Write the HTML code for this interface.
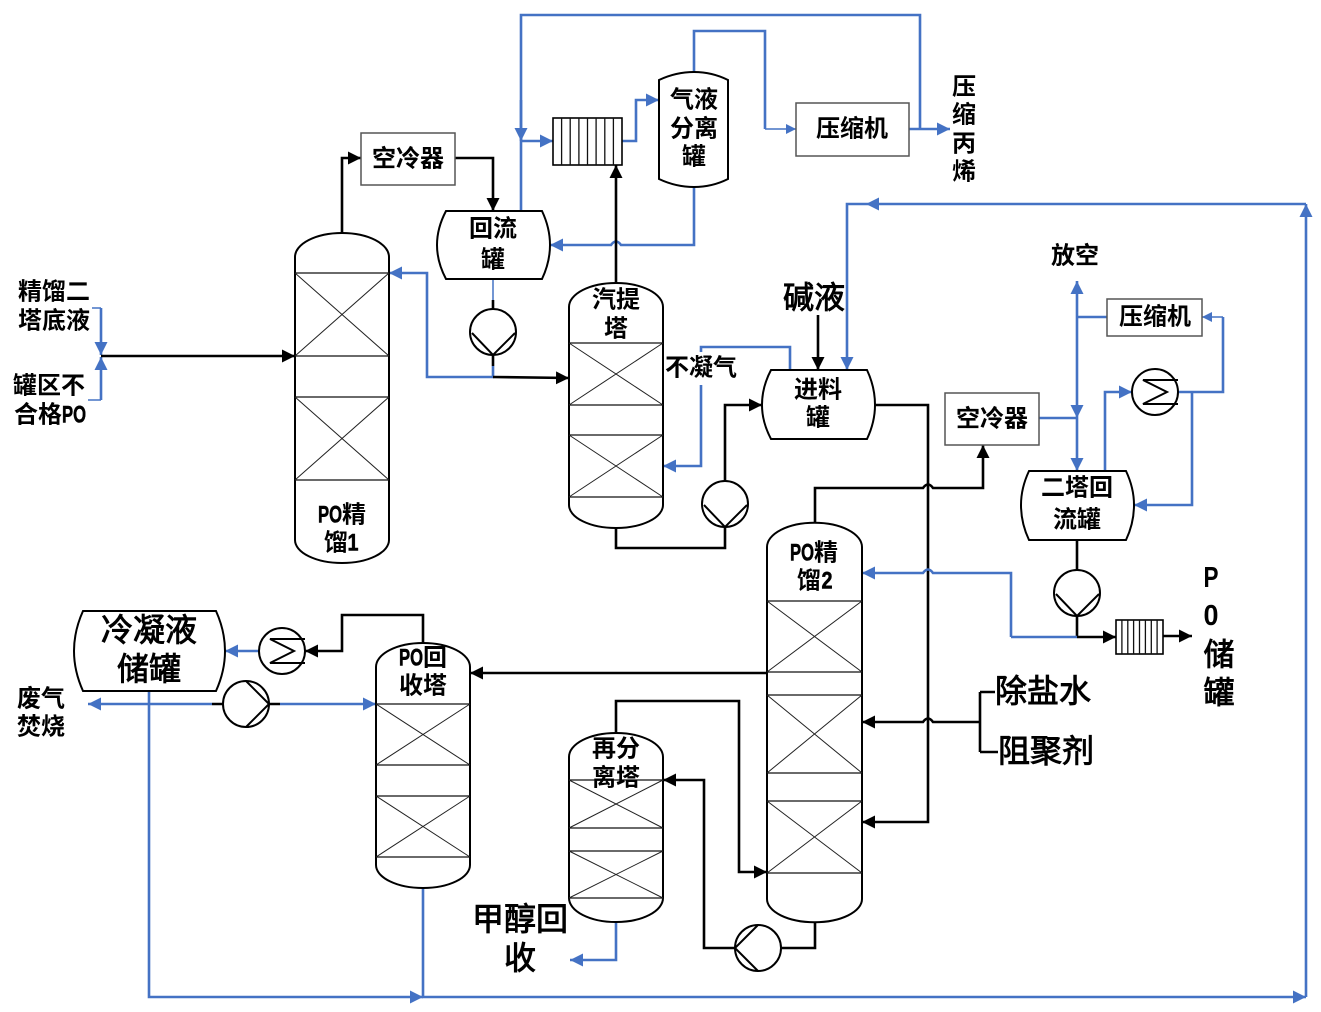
<!DOCTYPE html>
<html lang="zh">
<head>
<meta charset="utf-8">
<title>PO精馏工艺流程图</title>
<style>
html,body{margin:0;padding:0;background:#fff;width:1321px;height:1012px;overflow:hidden}
svg{display:block}
text{font-family:"Liberation Sans","Noto Sans CJK SC",sans-serif;font-weight:700;fill:#000;text-anchor:middle;dominant-baseline:central}
.k{fill:none;stroke:#000;stroke-width:2.6}
.b{fill:none;stroke:#4472C4;stroke-width:2.6}
.bt{fill:none;stroke:#4472C4;stroke-width:1.5}
.v{fill:#fff;stroke:#000;stroke-width:2}
.t{fill:none;stroke:#222;stroke-width:1}
.l{fill:none;stroke:#111;stroke-width:1.3}
.box{fill:#fff;stroke:#555;stroke-width:1.5}
.s24 text{font-size:24px}
.s24 text.po{stroke:#000;stroke-width:.6}
.s30 text{font-size:31px;font-weight:400;stroke:#000;stroke-width:.9}
.s32 text{font-size:32px;font-weight:400;stroke:#000;stroke-width:.9}
</style>
</head>
<body>
<svg width="1321" height="1012" viewBox="0 0 1321 1012" xmlns="http://www.w3.org/2000/svg">
<defs>
<marker id="ak" markerUnits="userSpaceOnUse" markerWidth="14" markerHeight="14" refX="13" refY="7" orient="auto"><path d="M0 .5L13 7L0 13.5Z" fill="#000"/></marker>
<marker id="ab" markerUnits="userSpaceOnUse" markerWidth="14" markerHeight="14" refX="13" refY="7" orient="auto"><path d="M0 .5L13 7L0 13.5Z" fill="#4472C4"/></marker>
<marker id="as" markerUnits="userSpaceOnUse" markerWidth="11" markerHeight="12" refX="10" refY="6" orient="auto"><path d="M0 1L10 6L0 11Z" fill="#4472C4"/></marker>
</defs>

<!-- top blue lines -->
<path class="b" d="M521 211V15H920V129"/>
<path class="b" d="M909 129H950" marker-end="url(#ab)"/>
<path class="b" d="M521 100V141" marker-end="url(#ab)"/>
<path class="b" d="M521 141H553" marker-end="url(#ab)"/>
<path class="b" d="M622 141H636V100H659" marker-end="url(#ab)"/>
<path class="b" d="M694 72V31H765V129"/>
<path class="bt" d="M765 129H796" marker-end="url(#as)"/>
<path class="b" d="M694 187V245H621Q616 238 611 245H550" marker-end="url(#ab)"/>

<!-- col1 connections -->
<path class="k" d="M342 233V158H361" marker-end="url(#ak)"/>
<path class="k" d="M455 158H493V211" marker-end="url(#ak)"/>
<path class="bt" d="M493 279V300"/>
<path class="k" d="M493 300V309"/>
<path class="k" d="M493 355V366"/>
<path class="b" d="M493 366V377H427V273H389" marker-end="url(#ab)"/>
<path class="k" d="M493 377L569 378" marker-end="url(#ak)"/>
<path class="k" d="M616 283V165" marker-end="url(#ak)"/>

<!-- feed left -->
<path class="bt" d="M92 308H101"/>
<path class="b" d="M101 308V355" marker-end="url(#ab)"/>
<path class="bt" d="M88 400H101"/>
<path class="b" d="M101 400V357" marker-end="url(#ab)"/>
<path class="k" d="M101 356H295" marker-end="url(#ak)"/>

<!-- non-condensable -->
<path class="b" d="M790 370V347H701V352"/>
<path class="b" d="M701 385V466H663" marker-end="url(#ab)"/>
<path class="k" d="M616 528V548H725V527"/>
<path class="k" d="M725 481V405H762" marker-end="url(#ak)"/>
<path class="k" d="M818 315V370" marker-end="url(#ak)"/>

<!-- big recycle -->
<path class="b" d="M1306 204H847V370" marker-end="url(#ab)"/>
<path d="M866 204L879 197.500V210.500Z" fill="#4472C4"/>
<path class="b" d="M149 691V997H423" marker-end="url(#ab)"/>
<path class="b" d="M423 888V997H1306" marker-end="url(#ab)"/>
<path class="b" d="M1306 997V204" marker-end="url(#ab)"/>

<!-- feed tank to col 2 -->
<path class="k" d="M875 405H928V822H862" marker-end="url(#ak)"/>
<path class="k" d="M815 523V488H923Q928 481 933 488H983V445" marker-end="url(#ak)"/>
<path class="b" d="M1011 637V573H933Q928 566 923 573H862" marker-end="url(#ab)"/>
<path class="k" d="M980 692H995M980 752H998M980 692V752"/>
<path class="k" d="M980 722H933Q928 715 923 722H862" marker-end="url(#ak)"/>

<!-- upper right -->
<path class="b" d="M1039 418H1077"/>
<path class="b" d="M1077 330V281" marker-end="url(#ab)"/>
<path class="b" d="M1077 330V418" marker-end="url(#ab)"/>
<path class="b" d="M1077 418V471" marker-end="url(#ab)"/>
<path class="b" d="M1107 317H1077"/>
<path class="b" d="M1105 471V392H1132" marker-end="url(#ab)"/>
<path class="b" d="M1178 392H1223V317"/>
<path class="bt" d="M1223 317H1202" marker-end="url(#as)"/>
<path class="b" d="M1192 392V505H1134" marker-end="url(#ab)"/>
<path class="k" d="M1077 540V570"/>
<path class="k" d="M1077 616V637"/>
<path class="b" d="M1077 637H1011"/>
<path class="k" d="M1077 637H1116" marker-end="url(#ak)"/>
<path class="k" d="M1163 636H1192" marker-end="url(#ak)"/>

<!-- lower left -->
<path class="k" d="M767 673H470" marker-end="url(#ak)"/>
<path class="k" d="M423 643V615H342V651H305" marker-end="url(#ak)"/>
<path class="b" d="M259 651H225" marker-end="url(#ab)"/>
<path class="b" d="M212 704H88" marker-end="url(#ab)"/>
<path class="k" d="M212 704H223M269 704H280"/>
<path class="b" d="M280 704H376" marker-end="url(#ab)"/>

<!-- lower mid -->
<path class="k" d="M616 733V701H739V872H767" marker-end="url(#ak)"/>
<path class="k" d="M781 948H815V922"/>
<path class="k" d="M735 948H704V780H663" marker-end="url(#ak)"/>
<path class="b" d="M616 922V960H570" marker-end="url(#ab)"/>

<!-- columns -->
<path class="v" d="M295 257A47 24 0 0 1 389 257V540A47 23 0 0 1 295 540Z"/>
<path class="l" d="M295 273H389M295 356H389M295 397H389M295 480H389"/>
<path class="t" d="M295 273L389 356M389 273L295 356M295 397L389 480M389 397L295 480"/>

<path class="v" d="M569 307A47 24 0 0 1 663 307V505A47 23 0 0 1 569 505Z"/>
<path class="l" d="M569 343H663M569 405H663M569 435H663M569 497H663"/>
<path class="t" d="M569 343L663 405M663 343L569 405M569 435L663 497M663 435L569 497"/>

<path class="v" d="M767 547A47 24 0 0 1 862 547V899A47 23 0 0 1 767 899Z"/>
<path class="l" d="M767 601H862M767 672H862M767 695H862M767 773H862M767 801H862M767 873H862"/>
<path class="t" d="M767 601L862 672M862 601L767 672M767 695L862 773M862 695L767 773M767 801L862 873M862 801L767 873"/>

<path class="v" d="M376 667A47 24 0 0 1 470 667V865A47 23 0 0 1 376 865Z"/>
<path class="l" d="M376 704H470M376 765H470M376 796H470M376 857H470"/>
<path class="t" d="M376 704L470 765M470 704L376 765M376 796L470 857M470 796L376 857"/>

<path class="v" d="M569 757A47 24 0 0 1 663 757V898A47 24 0 0 1 569 898Z"/>
<path class="l" d="M569 780H663M569 828H663M569 851H663M569 898H663"/>
<path class="t" d="M569 780L663 828M663 780L569 828M569 851L663 898M663 851L569 898"/>

<!-- separator -->
<path class="v" d="M659 80Q676 72 694 72Q712 72 728 80V179Q712 187 694 187Q676 187 659 179Z"/>

<!-- tanks -->
<path class="v" d="M446 211H542Q550 228 550 245Q550 262 542 279H446Q437 262 437 245Q437 228 446 211Z"/>
<path class="v" d="M771 370H867Q875 387 875 405Q875 422 867 439H771Q762 422 762 405Q762 387 771 370Z"/>
<path class="v" d="M1029 471H1126Q1134 488 1134 505Q1134 523 1126 540H1029Q1021 523 1021 505Q1021 488 1029 471Z"/>
<path class="v" d="M83 611H216Q225 631 225 651Q225 671 216 691H83Q74 671 74 651Q74 631 83 611Z"/>

<!-- boxes -->
<rect class="box" x="361" y="133" width="94" height="52"/>
<rect class="box" x="796" y="103" width="113" height="53"/>
<rect class="box" x="945" y="393" width="94" height="52"/>
<rect class="box" x="1107" y="299" width="95" height="37"/>

<!-- tube bundles -->
<rect x="553" y="118" width="69" height="47" fill="#fff" stroke="#000" stroke-width="1.6"/>
<path class="l" d="M561.600 118V165M570.200 118V165M578.900 118V165M587.500 118V165M596.100 118V165M604.800 118V165M613.400 118V165"/>
<rect x="1116" y="620" width="47" height="34" fill="#fff" stroke="#000" stroke-width="1.6"/>
<path class="l" d="M1121.900 620V654M1127.800 620V654M1133.600 620V654M1139.500 620V654M1145.400 620V654M1151.300 620V654M1157.100 620V654"/>

<!-- pumps -->
<circle class="v" cx="493" cy="332" r="23" stroke-width="1.6"/><path class="v" style="fill:none" d="M472 333L493 355L515 333"/>
<circle class="v" cx="725" cy="504" r="23" stroke-width="1.6"/><path class="v" style="fill:none" d="M704 505L725 527L747 505"/>
<circle class="v" cx="1077" cy="593" r="23" stroke-width="1.6"/><path class="v" style="fill:none" d="M1056 594L1077 616L1099 594"/>
<circle class="v" cx="246" cy="704" r="23" stroke-width="1.6"/><path class="v" style="fill:none" d="M246 681L269 704L246 727"/>
<circle class="v" cx="758" cy="948" r="23" stroke-width="1.6"/><path class="v" style="fill:none" d="M758 925L735 948L758 971"/>

<!-- exchangers -->
<circle class="v" cx="1155" cy="392" r="23" stroke-width="1.6"/><path class="v" style="fill:none" d="M1178 380H1143L1167 392L1143 404H1178"/>
<circle class="v" cx="282" cy="651" r="23" stroke-width="1.6"/><path class="v" style="fill:none" d="M305 639H270L294 651L270 663H305"/>

<!-- labels -->
<g class="s24" transform="translate(0,1)">
<text x="964" y="86">压</text><text x="964" y="114">缩</text><text x="964" y="143">丙</text><text x="964" y="171">烯</text>
<text x="694" y="99">气液</text><text x="694" y="128">分离</text><text x="694" y="156">罐</text>
<text x="852" y="128">压缩机</text>
<text x="493" y="228">回流</text><text x="493" y="259">罐</text>
<text x="408" y="158">空冷器</text>
<text x="616" y="299">汽提</text><text x="616" y="328">塔</text>
<text x="701" y="367">不凝气</text>
<text x="818" y="389">进料</text><text x="818" y="417">罐</text>
<text x="1075" y="255">放空</text>
<text x="1155" y="316">压缩机</text>
<text x="992" y="418">空冷器</text>
<text x="1077" y="487">二塔回</text><text x="1077" y="519">流罐</text>
<text x="616" y="748">再分</text><text x="616" y="777">离塔</text>

<text class="po" x="802" y="552" textLength="24" lengthAdjust="spacingAndGlyphs">PO</text><text x="826" y="552">精</text>
<text x="809" y="580">馏</text><text class="po" x="827" y="580" textLength="11" lengthAdjust="spacingAndGlyphs">2</text>

<text class="po" x="411" y="657" textLength="24" lengthAdjust="spacingAndGlyphs">PO</text><text x="435" y="657">回</text>
<text x="423" y="685">收塔</text>

<text x="41" y="698">废气</text><text x="41" y="726">焚烧</text>

<text class="po" x="330" y="514" textLength="24" lengthAdjust="spacingAndGlyphs">PO</text><text x="354" y="514">精</text>
<text x="336" y="542">馏</text><text class="po" x="353" y="542" textLength="11" lengthAdjust="spacingAndGlyphs">1</text>

<text x="54" y="291">精馏二</text><text x="54" y="320">塔底液</text>
<text x="49" y="385">罐区不</text>
<text x="38" y="414">合格</text><text class="po" x="74" y="414" textLength="24" lengthAdjust="spacingAndGlyphs">PO</text>
</g>
<g class="s30">
<text x="814" y="298">碱液</text>
</g>
<text x="1211" y="578" font-size="29" textLength="15" lengthAdjust="spacingAndGlyphs">P</text>
<text x="1211" y="616" font-size="29" textLength="15" lengthAdjust="spacingAndGlyphs">0</text>
<g class="s30">
<text x="1219" y="655">储</text><text x="1219" y="693">罐</text>
</g>
<g class="s32">
<text x="1043" y="691">除盐水</text><text x="1046" y="751">阻聚剂</text>
<text x="520" y="919">甲醇回</text><text x="520" y="958">收</text>
<text x="149" y="630">冷凝液</text><text x="149" y="669">储罐</text>
</g>
</svg>
</body>
</html>
